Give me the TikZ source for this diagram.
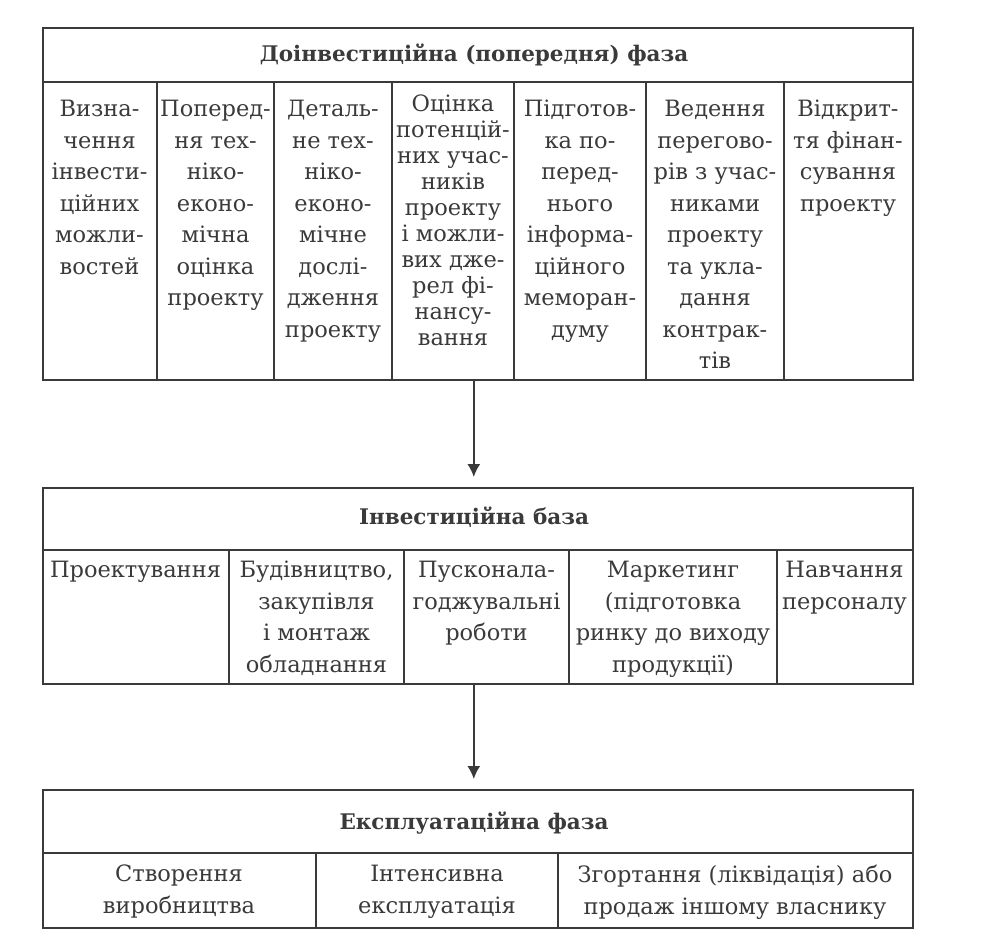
\documentclass[tikz,border=0pt]{standalone}
\usepackage{fontspec}
\setmainfont{DejaVu Serif}
\usetikzlibrary{arrows.meta}
\definecolor{ink}{HTML}{3A3A3A}
\tikzset{
  blk/.style={draw=ink,line width=1.6pt,anchor=north west,inner sep=0pt},
  rule/.style={ink,line width=1.6pt},
  cell/.style={anchor=north,align=center,text=ink,inner sep=0pt,font=\fontsize{22.5}{31.5}\selectfont},
  head/.style={anchor=base,text=ink,inner sep=0pt,font=\fontsize{21.5}{26}\selectfont\bfseries},
}
\begin{document}
\begin{tikzpicture}[x=1pt,y=-1pt]
        \useasboundingbox (0,0) rectangle (986,947);

        % doinvestytsiina faza
        \node[blk,minimum width=870pt,minimum height=352pt](f1)at(42,27){};
        \draw[rule](42,82)--(912,82);
        \foreach \x in {157,274,392,514,646,784} \draw[rule](\x,82)--(\x,379);
        \node[head](h1)at(474,62){Доінвестиційна (попередня) фаза};
        \node[cell](c11)at(99.5,100){Визна-\\чення\\інвести-\\ційних\\можли-\\востей};
        \node[cell](c12)at(215.5,100){Поперед-\\ня тех-\\ніко-\\еконо-\\мічна\\оцінка\\проекту};
        \node[cell](c13)at(333,100){Деталь-\\не тех-\\ніко-\\еконо-\\мічне\\дослі-\\дження\\проекту};
        \node[cell,font=\fontsize{22.5}{26}\selectfont](c14)at(453,95){Оцінка\\потенцій-\\них учас-\\ників\\проекту\\і можли-\\вих дже-\\рел фі-\\нансу-\\вання};
        \node[cell](c15)at(580,100){Підготов-\\ка по-\\перед-\\нього\\інформа-\\ційного\\меморан-\\думу};
        \node[cell](c16)at(715,100){Ведення\\перегово-\\рів з учас-\\никами\\проекту\\та укла-\\дання\\контрак-\\тів};
        \node[cell](c17)at(848,100){Відкрит-\\тя фінан-\\сування\\проекту};

        % investytsiina baza
        \node[blk,minimum width=870pt,minimum height=196pt](f2)at(42,487){};
        \draw[rule](42,550)--(912,550);
        \foreach \x in {229,404,569,777} \draw[rule](\x,550)--(\x,683);
        \node[head](h2)at(474,524){Інвестиційна база};
        \node[cell](c21)at(135.5,561){Проектування};
        \node[cell](c22)at(316.5,561){Будівництво,\\закупівля\\і монтаж\\обладнання};
        \node[cell](c23)at(486.5,561){Пусконала-\\годжувальні\\роботи};
        \node[cell](c24)at(673,561){Маркетинг\\(підготовка\\ринку до виходу\\продукції)};
        \node[cell](c25)at(844.5,561){Навчання\\персоналу};

        % ekspluatatsiina faza
        \node[blk,minimum width=870pt,minimum height=138pt](f3)at(42,789){};
        \draw[rule](42,853)--(912,853);
        \foreach \x in {316,558} \draw[rule](\x,853)--(\x,927);
        \node[head](h3)at(474,829){Експлуатаційна фаза};
        \node[cell](c31)at(179,865){Створення\\виробництва};
        \node[cell](c32)at(437,865){Інтенсивна\\експлуатація};
        \node[cell](c33)at(735,865){Згортання (ліквідація) або\\продаж іншому власнику};

        \draw[rule,-{Latex[length=13pt,width=13pt]},shorten >=10pt]([xshift=-4pt]f1.south)--([xshift=-4pt]f2.north);
        \draw[rule,-{Latex[length=13pt,width=13pt]},shorten >=10pt]([xshift=-4pt]f2.south)--([xshift=-4pt]f3.north);
    \end{tikzpicture}
\end{document}
